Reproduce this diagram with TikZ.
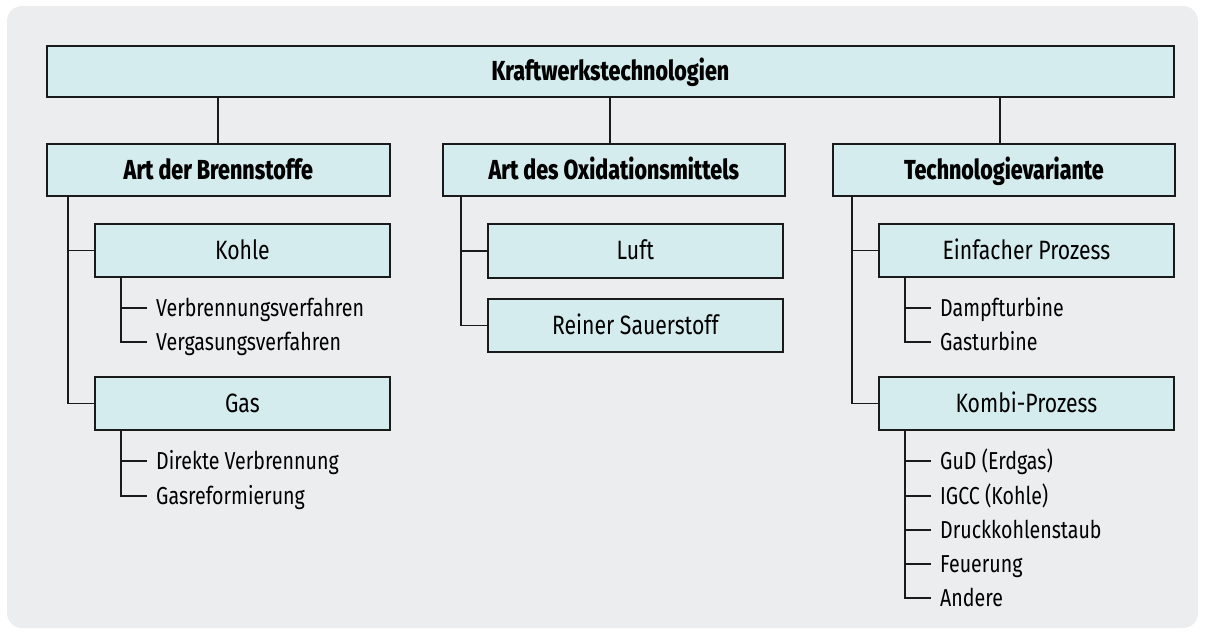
\documentclass[tikz,border=0pt]{standalone}
\usepackage{fontspec}
\setmainfont{Fira Sans}[FakeStretch=0.80, BoldFont={Fira Sans ExtraBold}, BoldFeatures={FakeStretch=0.78}]
\usetikzlibrary{positioning}

\definecolor{panel}{HTML}{ECEDEF}
\definecolor{boxfill}{HTML}{D5ECEE}
\definecolor{ink}{HTML}{1A1A1A}

\tikzset{
  box/.style={draw=ink, fill=boxfill, line width=1.8pt, inner sep=0pt,
    anchor=north west, text height=18pt, text depth=0pt,
    font=\fontsize{26.5}{30}\selectfont},
  headbox/.style={box, text height=19pt, font=\fontsize{27.5}{32}\selectfont\bfseries},
  leaf/.style={anchor=west, inner xsep=9pt, inner ysep=0pt,
    text height=16.8pt, text depth=0pt,
    font=\fontsize{24.5}{29}\selectfont},
  link/.style={draw=ink, line width=1.8pt},
}

\begin{document}
\begin{tikzpicture}[x=1pt, y=-1pt]
\useasboundingbox (0,0) rectangle (1206,634);
\fill[panel, rounded corners=15pt] (7,6) rectangle (1198,628);

% root
\node[headbox, minimum width=1127pt, minimum height=51pt] (root) at (46,45) {Kraftwerkstechnologien};

% main categories
\node[headbox, minimum width=343pt, minimum height=52pt] (fuel) at (46,143) {Art der Brennstoffe};
\node[headbox, minimum width=342pt, minimum height=52pt] (oxid) at (442,143) {Art des Oxidationsmittels};
\node[headbox, minimum width=342pt, minimum height=52pt] (tech) at (832,143) {Technologievariante};

% fuels
\node[box, minimum width=295pt, minimum height=53pt] (kohle) at (94,223) {Kohle};
\node[box, minimum width=295pt, minimum height=53pt] (gas) at (94,376) {Gas};
\node[leaf] (verb) at (147,308) {Verbrennungsverfahren};
\node[leaf] (verg) at (147,342) {Vergasungsverfahren};
\node[leaf] (direkt) at (147,461) {Direkte Verbrennung};
\node[leaf] (reform) at (147,496) {Gasreformierung};

% oxidisers
\node[box, minimum width=295pt, minimum height=54pt] (luft) at (487,223) {Luft};
\node[box, minimum width=295pt, minimum height=53pt] (sauer) at (487,298) {Reiner Sauerstoff};

% technology variants
\node[box, minimum width=295pt, minimum height=53pt] (einf) at (878,223) {Einfacher Prozess};
\node[box, minimum width=295pt, minimum height=53pt] (kombi) at (878,376) {Kombi-Prozess};
\node[leaf] (dampf) at (931,308) {Dampfturbine};
\node[leaf] (gast) at (931,342) {Gasturbine};
\node[leaf] (gud) at (931,461) {GuD (Erdgas)};
\node[leaf] (igcc) at (931,496) {IGCC (Kohle)};
\node[leaf] (druck) at (931,530) {Druckkohlenstaub};
\node[leaf] (feuer) at (931,564) {Feuerung};
\node[leaf] (andere) at (931,598) {Andere};

% root to categories
\draw[link] (root.south -| 218,0) -- (fuel.north -| 218,0);
\draw[link] (root.south -| 610,0) -- (oxid.north -| 610,0);
\draw[link] (root.south -| 1000,0) -- (tech.north -| 1000,0);

% categories to sub-boxes
\draw[link] (fuel.south -| 68,0) |- (gas.west);
\draw[link] (kohle.west) -- ++(-26pt,0);
\draw[link] (oxid.south -| 461,0) |- (sauer.west);
\draw[link] (luft.west) -- ++(-26pt,0);
\draw[link] (tech.south -| 852,0) |- (kombi.west);
\draw[link] (einf.west) -- ++(-26pt,0);

% sub-boxes to leaves
\draw[link] ([xshift=27pt]kohle.south west) |- (verg.west);
\draw[link] (verb.west) -- ++(-26pt,0);
\draw[link] ([xshift=27pt]gas.south west) |- (reform.west);
\draw[link] (direkt.west) -- ++(-26pt,0);
\draw[link] ([xshift=27pt]einf.south west) |- (gast.west);
\draw[link] (dampf.west) -- ++(-26pt,0);
\draw[link] ([xshift=27pt]kombi.south west) |- (andere.west);
\draw[link] (gud.west) -- ++(-26pt,0);
\draw[link] (igcc.west) -- ++(-26pt,0);
\draw[link] (druck.west) -- ++(-26pt,0);
\draw[link] (feuer.west) -- ++(-26pt,0);
\end{tikzpicture}
\end{document}
